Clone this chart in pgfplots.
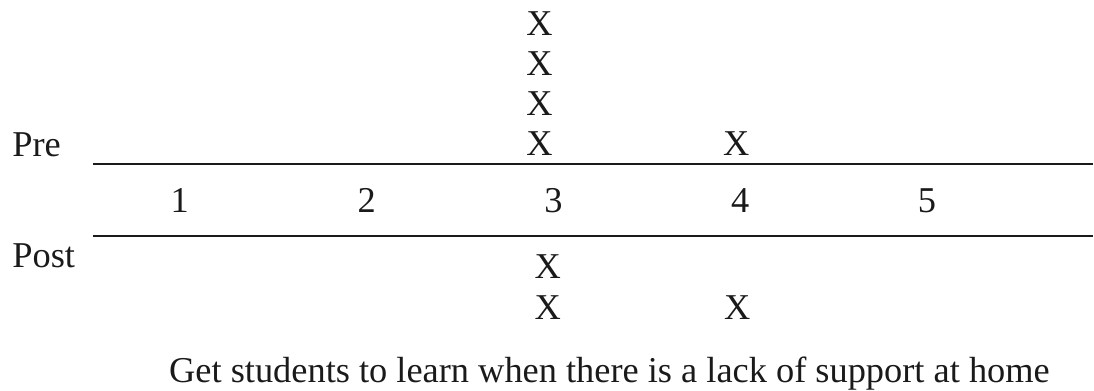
\documentclass[border=0pt]{standalone}
\usepackage{fontspec}
\setmainfont{Liberation Serif}
\usepackage{pgfplots}
\pgfplotsset{compat=1.18}
\usepackage{pgfplotstable}
% value v, stack level k (Pre: 1 = next to the rule; Post: 1 = bottom row)
\pgfplotstableread{
v k
3 1
3 2
3 3
3 4
}\prethree
\pgfplotstableread{
v k
4 1
}\prefour
\pgfplotstableread{
v k
3 1
3 2
}\postthree
\pgfplotstableread{
v k
4 1
}\postfour
\definecolor{ink}{HTML}{1A1A1A}
\newcommand{\fs}{\fontsize{18.2}{22}\selectfont}
\begin{document}
\begin{tikzpicture}
\begin{axis}[
  width=547pt, height=195.5pt, scale only axis,
  xmin=0.03743, xmax=5.8877, ymin=-391, ymax=0,
  hide axis, clip=false,
  xmark/.style={only marks, mark=none, nodes near coords={X},
    every node near coord/.append style={anchor=center, inner sep=0pt, font=\fs, text=ink, xshift=#1}},
]
\path (rel axis cs:0,0) rectangle (rel axis cs:1,1);
% rules
\draw[ink, line width=1.2pt] (axis cs:0.5348,-164) -- (axis cs:5.8877,-164);
\draw[ink, line width=1.2pt] (axis cs:0.5348,-236.5) -- (axis cs:5.8877,-236.5);
% scale numbers
\pgfplotsinvokeforeach{1,2,3,4,5}{
  \node[ink, font=\fs, anchor=base, inner sep=0pt] at (axis cs:#1,-213) {#1};
}
\node[ink, font=\fs, anchor=base west, inner sep=0pt] at (axis cs:0.1016,-157) {Pre};
\node[ink, font=\fs, anchor=base west, inner sep=0pt] at (axis cs:0.1016,-268) {Post};
\addplot[xmark=-7pt] table[x=v, y expr=-(183.5-40*\thisrow{k})] {\prethree};
\addplot[xmark=-2pt] table[x=v, y expr=-(183.5-40*\thisrow{k})] {\prefour};
\addplot[xmark=-2.8pt] table[x=v, y expr=-(349-41*\thisrow{k})] {\postthree};
\addplot[xmark=-1.5pt] table[x=v, y expr=-(349-41*\thisrow{k})] {\postfour};
\node[ink, font=\fs, anchor=base west, inner sep=0pt] at (axis cs:0.9412,-383) {Get students to learn when there is a lack of support at home};
\end{axis}
\end{tikzpicture}
\end{document}
